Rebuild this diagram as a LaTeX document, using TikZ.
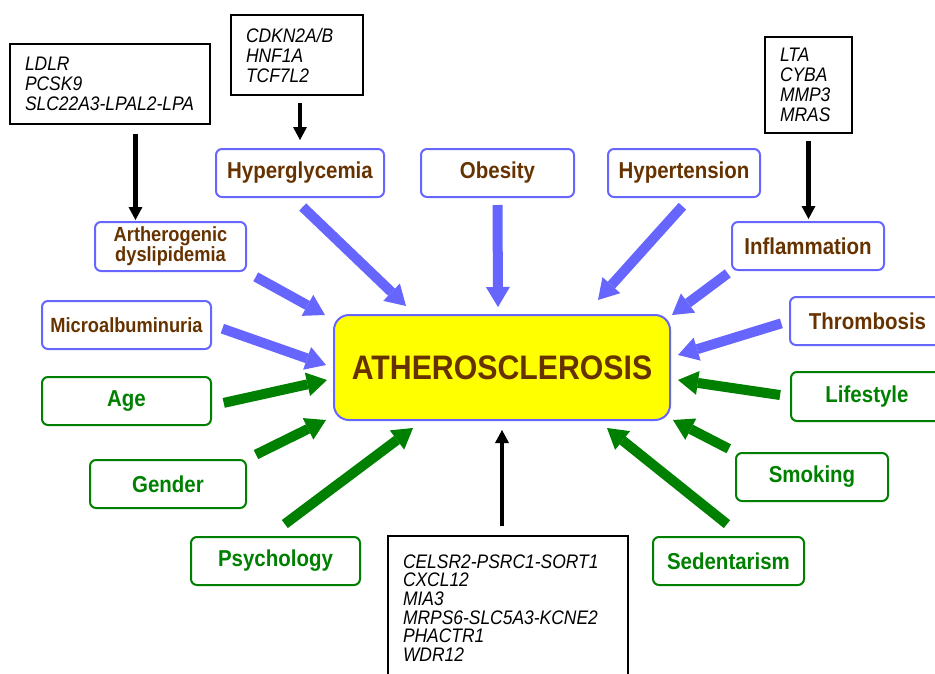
\documentclass[tikz,border=0pt]{standalone}
\usepackage{fontspec}
\setmainfont{Liberation Sans}[FakeStretch=0.89]
\usetikzlibrary{arrows.meta}
\exhyphenpenalty=10000
\definecolor{Risk}{HTML}{6666FF}
\definecolor{Brown}{HTML}{663300}
\definecolor{Life}{HTML}{008000}
\definecolor{Core}{HTML}{FFFF00}
\tikzset{riskbox/.style={draw=Risk,line width=2pt,rounded corners=6pt,minimum height=48pt,inner sep=0pt,align=center,text=Brown,font=\fontsize{23}{26}\selectfont\bfseries},lifebox/.style={riskbox,draw=Life,text=Life},genebox/.style={draw=black,line width=1.6pt,align=left,inner xsep=15pt,inner ysep=0pt,font=\fontsize{19.6}{20}\selectfont\itshape},pflow/.style={-{Triangle[length=20pt,width=24pt,line width=0pt]},line width=10pt,draw=Risk},gflow/.style={pflow,draw=Life},kflow/.style={-{Triangle[length=13pt,width=14pt,line width=0pt]},line width=4.5pt,draw=black}}

\begin{document}
\begin{tikzpicture}[x=1pt,y=-1pt]
\useasboundingbox (0,0) rectangle (935,673);
\clip (0,0) rectangle (935,673);
% centre
\node[draw=Risk,fill=Core,line width=2pt,rounded corners=15pt,minimum width=336pt,minimum height=105pt,text=Brown,font=\fontsize{34}{36}\selectfont\bfseries] (athero) at (502,367.5) {ATHEROSCLEROSIS};
% risk factors
\node[riskbox,minimum width=168pt] (hyper) at (300,173) {Hyperglycemia};
\node[riskbox,minimum width=153pt] (obes) at (497.5,173) {Obesity};
\node[riskbox,minimum width=152pt] (hypert) at (684,173) {Hypertension};
\node[riskbox,minimum width=152pt] (infl) at (808,246) {Inflammation};
\node[riskbox,minimum width=151pt,minimum height=49pt,font=\fontsize{20.5}{20}\selectfont\bfseries] (dysl) at (170.5,246.5) {Artherogenic\\dyslipidemia};
\node[riskbox,minimum width=169pt,font=\fontsize{20.5}{24}\selectfont\bfseries] (micro) at (126.5,325) {Microalbuminuria};
\node[riskbox,minimum width=155pt] (thromb) at (867.5,321) {Thrombosis};
\node[lifebox,minimum width=169pt] (age) at (126.5,401) {Age};
\node[lifebox,minimum width=156pt] (gender) at (168,484) {Gender};
\node[lifebox,minimum width=169pt] (psych) at (275.5,561) {Psychology};
\node[lifebox,minimum width=152pt,minimum height=49pt] (life) at (867,396.5) {Lifestyle};
\node[lifebox,minimum width=152pt] (smoke) at (812,477) {Smoking};
\node[lifebox,minimum width=151pt] (sedent) at (728.5,561) {Sedentarism};
% genes
\node[genebox,text width=170pt,minimum height=80pt] (ldlr) at (110,84) {LDLR\\PCSK9\\SLC22A3-LPAL2-LPA};
\node[genebox,text width=102pt,minimum height=80pt] (cdkn) at (297,55) {CDKN2A/B\\HNF1A\\TCF7L2};
\node[genebox,text width=57pt,minimum height=96pt] (lta) at (808.5,85) {LTA\\CYBA\\MMP3\\MRAS};
\node[genebox,text width=210pt,minimum height=144pt,font=\fontsize{19.6}{18.7}\selectfont\itshape] (celsr) at (508,608) {CELSR2-PSRC1-SORT1\\CXCL12\\MIA3\\MRPS6-SLC5A3-KCNE2\\PHACTR1\\WDR12};
% arrow tips at the centre box
\coordinate (tHyper) at (406,306);
\coordinate (tObes) at (498,307);
\coordinate (tHypert) at (598,300);
\coordinate (tInfl) at (672,315);
\coordinate (tDysl) at (325,315);
\coordinate (tMicro) at (326,365);
\coordinate (tThromb) at (678,355);
\coordinate (tAge) at (327,380);
\coordinate (tGender) at (326,420);
\coordinate (tPsych) at (413,428);
\coordinate (tLife) at (678,380);
\coordinate (tSmoke) at (673,420);
\coordinate (tSedent) at (607,428);
\draw[pflow,shorten <=13pt] (hyper.255) -- (tHyper);
\draw[pflow,shorten <=7pt] (obes.south) -- (tObes);
\draw[pflow,shorten <=11pt] (hypert.283) -- (tHypert);
\draw[pflow,shorten <=4pt] (infl.south west) -- (tInfl);
\draw[pflow,shorten <=10pt] (dysl.south east) -- (tDysl);
\draw[pflow,shorten <=11pt] (micro.east) -- (tMicro);
\draw[pflow,shorten <=8pt] (thromb.west) -- (tThromb);
\draw[gflow,shorten <=12pt] (age.-3) -- (tAge);
\draw[gflow,shorten <=10pt] (gender.north east) -- (tGender);
\draw[gflow,shorten <=20pt] (psych.105) -- (tPsych);
\draw[gflow,shorten <=10pt] (life.west) -- (tLife);
\draw[gflow,shorten <=7pt] (smoke.north west) -- (tSmoke);
\draw[gflow,shorten <=19pt] (sedent.62) -- (tSedent);
% gene arrows
\draw[kflow,shorten <=9pt,shorten >=1pt] (ldlr.-58) -- (ldlr.-58 |- dysl.north);
\draw[kflow,shorten <=7pt,shorten >=8pt] (hyper.north |- cdkn.south) -- (hyper.north);
\draw[kflow,shorten <=7pt,shorten >=2pt] (lta.south) -- (lta.south |- infl.north);
\draw[kflow,shorten <=9pt,shorten >=9pt] (athero.south |- celsr.north) -- (athero.south);
\end{tikzpicture}
\end{document}
